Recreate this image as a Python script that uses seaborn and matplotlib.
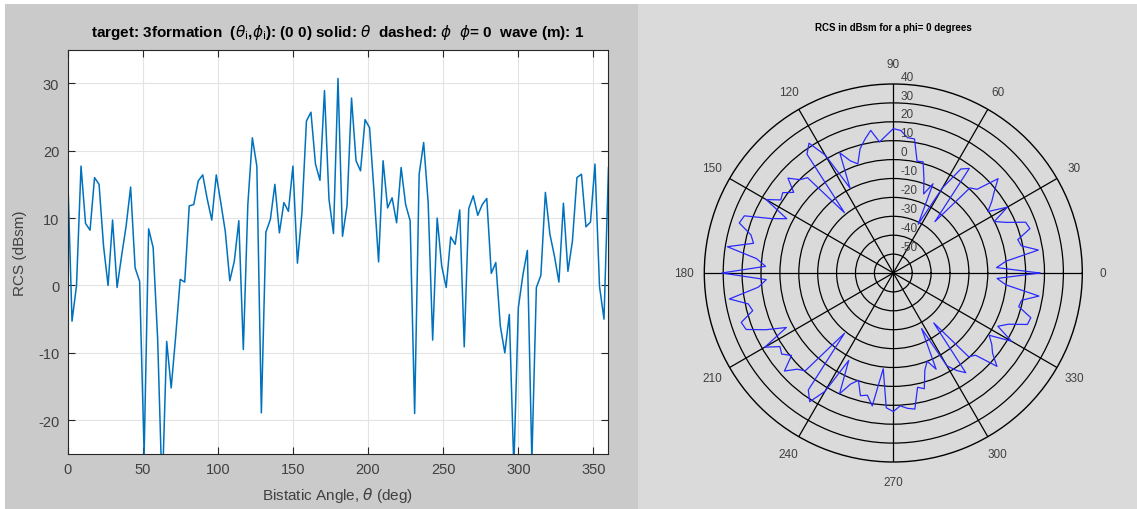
import numpy as np
import pandas as pd
import matplotlib
matplotlib.use("Agg")
import matplotlib.pyplot as plt
import matplotlib.transforms as mtransforms
from matplotlib.patches import Rectangle
import seaborn as sns

plt.rcParams['font.family'] = ['Liberation Sans', 'DejaVu Sans']
plt.rcParams['axes.unicode_minus'] = False

# ---------------- data ----------------
angles_deg = list(range(0, 361, 3))
rcs_dbsm = [
    17.5, -5.3, 0.0, 17.7, 9.2, 8.2, 16.0, 15.0, 5.8, 0.0,
    9.7, -0.3, 4.4, 8.8, 14.6, 2.6, 0.6, -25.0, 8.4, 5.6,
    -8.0, -31.0, -8.3, -15.2, -7.5, 0.9, 0.5, 11.8, 12.0, 15.5,
    16.4, 12.8, 9.7, 16.4, 12.3, 8.0, 0.7, 3.6, 9.6, -9.5,
    12.0, 21.9, 17.7, -18.9, 7.9, 9.8, 15.0, 7.8, 12.3, 11.0,
    17.7, 3.3, 10.8, 24.4, 25.7, 18.0, 15.6, 28.9, 12.8, 7.7,
    30.7, 7.3, 11.8, 27.8, 18.5, 17.0, 24.6, 23.4, 13.8, 3.5,
    18.5, 11.5, 13.0, 9.3, 17.5, 12.0, 9.6, -19.0, 16.5, 21.2,
    12.3, -8.1, 10.0, 2.9, -0.3, 7.2, 6.1, 11.2, -9.1, 11.4,
    13.3, 10.4, 12.0, 12.9, 1.8, 3.4, -6.0, -10.0, -4.3, -27.0,
    -3.3, 1.5, 5.2, -26.0, -0.3, 1.5, 13.8, 7.6, 4.4, 0.5,
    12.2, 2.1, 6.6, 16.0, 16.5, 8.7, 9.4, 18.0, -0.1, -5.0,
    17.5,
]
x_ticks = [0, 50, 100, 150, 200, 250, 300, 350]
y_ticks = [-20, -10, 0, 10, 20, 30]
r_ticks = [-50, -40, -30, -20, -10, 0, 10, 20, 30]
r_labels = [40, 30, 20, 10, 0, -10, -20, -30, -40, -50]
theta_ticks = list(range(0, 360, 30))

df = pd.DataFrame({"angle": angles_deg, "rcs": rcs_dbsm})
df["rad"] = np.deg2rad(df["angle"])

W, H = 1137, 510
fig = plt.figure(figsize=(W / 100, H / 100), dpi=100, facecolor='white')

# panel backgrounds
fig.patches.append(Rectangle((5 / W, 0), (638 - 5) / W, (H - 5) / H,
                             transform=fig.transFigure, facecolor='#cacaca',
                             edgecolor='none', zorder=-10))
fig.patches.append(Rectangle((638 / W, 0), (W - 638) / W, (H - 5) / H,
                             transform=fig.transFigure, facecolor='#dadada',
                             edgecolor='none', zorder=-10))

tick_col = '#404040'

# ---------------- left: cartesian ----------------
ax = fig.add_axes([67.5 / W, (H - 455) / H, 541 / W, 404.5 / H])
ax.set_facecolor('white')
sns.lineplot(data=df, x="angle", y="rcs", ax=ax, color='#0072BD', lw=1.1,
             sort=False, estimator=None)
ax.set_xlim(0, 360)
ax.set_ylim(-25, 35)
ax.set_xticks(x_ticks)
ax.set_yticks(y_ticks)
ax.grid(True, color='#e3e3e3', lw=0.8)
ax.set_axisbelow(True)
ax.tick_params(direction='in', top=True, right=True, length=5, width=0.8,
               color='#262626', labelsize=10.5, labelcolor=tick_col, pad=6)
for s in ax.spines.values():
    s.set_color('#262626')
    s.set_linewidth(0.8)
ax.set_xlabel(r"Bistatic Angle, $\theta$ (deg)", fontsize=11, color=tick_col, labelpad=6)
ax.set_ylabel("RCS (dBsm)", fontsize=11, color=tick_col, labelpad=8)
ax.set_title(r"target: 3formation  ($\theta_{\rm i}$,$\phi_{\rm i}$): (0 0) solid: $\theta$  dashed: $\phi$  $\phi$= 0  wave (m): 1",
             fontsize=11, fontweight='bold', color='black', pad=10)

# ---------------- right: polar ----------------
cx, cy, R = 893.3, 274, 189
pax = fig.add_axes([(cx - R) / W, (H - cy - R) / H, 2 * R / W, 2 * R / H],
                   projection='polar')
pax.patch.set_alpha(0)
sns.lineplot(data=df, x="rad", y="rcs", ax=pax, color='#2a2aff', lw=0.9,
             sort=False, estimator=None)
pax.set_ylim(-60, 40)
pax.set_yticks(r_ticks)
pax.set_yticklabels([])
pax.set_xticks(np.deg2rad(theta_ticks))
pax.set_xticklabels([str(t) for t in theta_ticks])
pax.tick_params(axis='x', pad=4, labelsize=8.5, labelcolor=tick_col)
pax.grid(True, color='black', lw=0.9)
pax.spines['polar'].set_color('black')
pax.spines['polar'].set_linewidth(1.0)
pax.set_xlabel("")
pax.set_ylabel("")

off = mtransforms.offset_copy(pax.transData, fig=fig, x=5, y=1, units='points')
for r in r_labels:
    pax.text(np.pi / 2, r, str(r), transform=off, ha='left', va='bottom',
             fontsize=8.5, color=tick_col)

fig.text(cx / W, 1 - 28 / H, "RCS in dBsm for a phi= 0 degrees", ha='center',
         va='center', fontsize=7, fontweight='bold', color='black')

fig.savefig("out.png", dpi=100, facecolor=fig.get_facecolor())
